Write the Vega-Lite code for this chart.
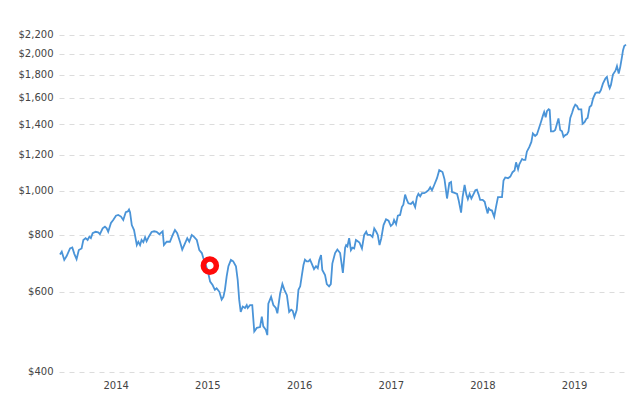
{
  "$schema": "https://vega.github.io/schema/vega-lite/v6.json",
  "width": 569,
  "height": 358,
  "autosize": {"type": "none"},
  "padding": {"left": 59, "top": 20, "right": 12, "bottom": 18},
  "background": "#ffffff",
  "config": {
    "view": {"stroke": null},
    "font": "DejaVu Sans"
  },
  "datasets": {
    "price": [
      {"date": "2013-11-22", "price": 725}, {"date": "2013-11-29", "price": 735}, {"date": "2013-12-09", "price": 705}, {"date": "2013-12-18", "price": 718},
      {"date": "2014-01-01", "price": 747}, {"date": "2014-01-10", "price": 751}, {"date": "2014-01-18", "price": 727}, {"date": "2014-01-27", "price": 708},
      {"date": "2014-02-05", "price": 741}, {"date": "2014-02-16", "price": 747}, {"date": "2014-02-23", "price": 780}, {"date": "2014-03-04", "price": 787},
      {"date": "2014-03-12", "price": 780}, {"date": "2014-03-19", "price": 793}, {"date": "2014-03-25", "price": 787}, {"date": "2014-04-01", "price": 807},
      {"date": "2014-04-13", "price": 813}, {"date": "2014-04-23", "price": 811}, {"date": "2014-04-30", "price": 803}, {"date": "2014-05-11", "price": 827},
      {"date": "2014-05-20", "price": 834}, {"date": "2014-05-27", "price": 827}, {"date": "2014-06-02", "price": 813}, {"date": "2014-06-13", "price": 850},
      {"date": "2014-06-22", "price": 863}, {"date": "2014-07-03", "price": 882}, {"date": "2014-07-12", "price": 885}, {"date": "2014-07-23", "price": 878},
      {"date": "2014-08-01", "price": 863}, {"date": "2014-08-11", "price": 898}, {"date": "2014-08-19", "price": 901}, {"date": "2014-08-24", "price": 910},
      {"date": "2014-08-28", "price": 898}, {"date": "2014-09-04", "price": 841}, {"date": "2014-09-13", "price": 820}, {"date": "2014-09-24", "price": 760},
      {"date": "2014-09-30", "price": 773}, {"date": "2014-10-07", "price": 760}, {"date": "2014-10-13", "price": 780}, {"date": "2014-10-20", "price": 771},
      {"date": "2014-10-27", "price": 791}, {"date": "2014-11-02", "price": 775}, {"date": "2014-11-12", "price": 795}, {"date": "2014-11-22", "price": 812},
      {"date": "2014-12-02", "price": 815}, {"date": "2014-12-12", "price": 813}, {"date": "2014-12-23", "price": 803},
      {"date": "2015-01-05", "price": 815}, {"date": "2015-01-10", "price": 760}, {"date": "2015-01-21", "price": 773}, {"date": "2015-02-03", "price": 773},
      {"date": "2015-02-14", "price": 800}, {"date": "2015-02-23", "price": 820}, {"date": "2015-03-04", "price": 807}, {"date": "2015-03-15", "price": 773},
      {"date": "2015-03-24", "price": 743}, {"date": "2015-04-04", "price": 767}, {"date": "2015-04-13", "price": 787}, {"date": "2015-04-21", "price": 773},
      {"date": "2015-05-01", "price": 800}, {"date": "2015-05-10", "price": 792}, {"date": "2015-05-21", "price": 780}, {"date": "2015-05-31", "price": 741},
      {"date": "2015-06-10", "price": 730}, {"date": "2015-06-16", "price": 712}, {"date": "2015-06-25", "price": 690}, {"date": "2015-07-06", "price": 658},
      {"date": "2015-07-13", "price": 632}, {"date": "2015-07-23", "price": 621}, {"date": "2015-08-01", "price": 606}, {"date": "2015-08-08", "price": 611},
      {"date": "2015-08-19", "price": 600}, {"date": "2015-08-28", "price": 577}, {"date": "2015-09-04", "price": 585}, {"date": "2015-09-10", "price": 606},
      {"date": "2015-09-17", "price": 649}, {"date": "2015-09-24", "price": 683}, {"date": "2015-10-04", "price": 705}, {"date": "2015-10-13", "price": 700},
      {"date": "2015-10-24", "price": 683}, {"date": "2015-10-31", "price": 637}, {"date": "2015-11-06", "price": 576}, {"date": "2015-11-12", "price": 542},
      {"date": "2015-11-20", "price": 557}, {"date": "2015-11-29", "price": 553}, {"date": "2015-12-06", "price": 561}, {"date": "2015-12-10", "price": 553},
      {"date": "2015-12-19", "price": 561}, {"date": "2015-12-28", "price": 561},
      {"date": "2016-01-05", "price": 491}, {"date": "2016-01-15", "price": 500}, {"date": "2016-01-28", "price": 502}, {"date": "2016-02-04", "price": 529},
      {"date": "2016-02-10", "price": 504}, {"date": "2016-02-20", "price": 495}, {"date": "2016-02-26", "price": 482}, {"date": "2016-03-01", "price": 565},
      {"date": "2016-03-12", "price": 585}, {"date": "2016-03-21", "price": 561}, {"date": "2016-03-31", "price": 553}, {"date": "2016-04-06", "price": 538},
      {"date": "2016-04-17", "price": 595}, {"date": "2016-04-26", "price": 624}, {"date": "2016-05-04", "price": 606}, {"date": "2016-05-14", "price": 590},
      {"date": "2016-05-23", "price": 542}, {"date": "2016-05-31", "price": 548}, {"date": "2016-06-06", "price": 545}, {"date": "2016-06-13", "price": 528},
      {"date": "2016-06-22", "price": 547}, {"date": "2016-06-29", "price": 606}, {"date": "2016-07-06", "price": 617}, {"date": "2016-07-12", "price": 649},
      {"date": "2016-07-19", "price": 687}, {"date": "2016-07-25", "price": 706}, {"date": "2016-08-01", "price": 700}, {"date": "2016-08-08", "price": 700},
      {"date": "2016-08-14", "price": 706}, {"date": "2016-08-21", "price": 692}, {"date": "2016-08-30", "price": 673}, {"date": "2016-09-07", "price": 683},
      {"date": "2016-09-14", "price": 676}, {"date": "2016-09-20", "price": 705}, {"date": "2016-09-27", "price": 723}, {"date": "2016-10-02", "price": 670},
      {"date": "2016-10-13", "price": 653}, {"date": "2016-10-20", "price": 624}, {"date": "2016-10-29", "price": 617}, {"date": "2016-11-05", "price": 624},
      {"date": "2016-11-11", "price": 692}, {"date": "2016-11-22", "price": 730}, {"date": "2016-12-01", "price": 743}, {"date": "2016-12-12", "price": 730},
      {"date": "2016-12-23", "price": 660},
      {"date": "2017-01-01", "price": 750}, {"date": "2017-01-05", "price": 760}, {"date": "2017-01-10", "price": 755}, {"date": "2017-01-17", "price": 787},
      {"date": "2017-01-24", "price": 741}, {"date": "2017-01-30", "price": 750}, {"date": "2017-02-06", "price": 747}, {"date": "2017-02-13", "price": 780},
      {"date": "2017-02-19", "price": 776}, {"date": "2017-02-27", "price": 770}, {"date": "2017-03-09", "price": 747}, {"date": "2017-03-18", "price": 800},
      {"date": "2017-03-26", "price": 813}, {"date": "2017-03-31", "price": 800}, {"date": "2017-04-11", "price": 800}, {"date": "2017-04-20", "price": 792},
      {"date": "2017-04-27", "price": 827}, {"date": "2017-05-05", "price": 813}, {"date": "2017-05-11", "price": 800}, {"date": "2017-05-18", "price": 760},
      {"date": "2017-05-25", "price": 787}, {"date": "2017-06-03", "price": 841}, {"date": "2017-06-13", "price": 866}, {"date": "2017-06-23", "price": 860},
      {"date": "2017-07-02", "price": 837}, {"date": "2017-07-10", "price": 845}, {"date": "2017-07-15", "price": 863}, {"date": "2017-07-23", "price": 845},
      {"date": "2017-07-30", "price": 882}, {"date": "2017-08-08", "price": 885}, {"date": "2017-08-15", "price": 921}, {"date": "2017-08-21", "price": 932},
      {"date": "2017-08-28", "price": 981}, {"date": "2017-09-04", "price": 955}, {"date": "2017-09-10", "price": 939}, {"date": "2017-09-20", "price": 936},
      {"date": "2017-09-28", "price": 946}, {"date": "2017-10-07", "price": 921}, {"date": "2017-10-14", "price": 969}, {"date": "2017-10-20", "price": 985},
      {"date": "2017-10-27", "price": 973}, {"date": "2017-11-03", "price": 988}, {"date": "2017-11-12", "price": 988}, {"date": "2017-11-20", "price": 994},
      {"date": "2017-11-29", "price": 1003}, {"date": "2017-12-06", "price": 1018}, {"date": "2017-12-13", "price": 1003}, {"date": "2017-12-22", "price": 1030},
      {"date": "2018-01-02", "price": 1066}, {"date": "2018-01-11", "price": 1110}, {"date": "2018-01-24", "price": 1100}, {"date": "2018-02-01", "price": 1060},
      {"date": "2018-02-11", "price": 962}, {"date": "2018-02-20", "price": 1040}, {"date": "2018-02-27", "price": 1046}, {"date": "2018-03-03", "price": 994},
      {"date": "2018-03-13", "price": 990}, {"date": "2018-03-23", "price": 985}, {"date": "2018-03-29", "price": 955}, {"date": "2018-04-08", "price": 896},
      {"date": "2018-04-14", "price": 969}, {"date": "2018-04-22", "price": 1030}, {"date": "2018-04-29", "price": 981}, {"date": "2018-05-05", "price": 959},
      {"date": "2018-05-12", "price": 985}, {"date": "2018-05-19", "price": 962}, {"date": "2018-05-28", "price": 985}, {"date": "2018-06-04", "price": 1003},
      {"date": "2018-06-10", "price": 1006}, {"date": "2018-06-17", "price": 981}, {"date": "2018-06-23", "price": 955}, {"date": "2018-07-03", "price": 955},
      {"date": "2018-07-11", "price": 946}, {"date": "2018-07-16", "price": 921}, {"date": "2018-07-23", "price": 892}, {"date": "2018-07-27", "price": 915},
      {"date": "2018-08-02", "price": 908}, {"date": "2018-08-09", "price": 905}, {"date": "2018-08-18", "price": 877}, {"date": "2018-08-25", "price": 921},
      {"date": "2018-09-02", "price": 969}, {"date": "2018-09-11", "price": 969}, {"date": "2018-09-18", "price": 969}, {"date": "2018-09-24", "price": 1054},
      {"date": "2018-10-01", "price": 1070}, {"date": "2018-10-12", "price": 1066}, {"date": "2018-10-21", "price": 1075}, {"date": "2018-10-30", "price": 1099},
      {"date": "2018-11-07", "price": 1108}, {"date": "2018-11-13", "price": 1155}, {"date": "2018-11-21", "price": 1115}, {"date": "2018-11-26", "price": 1144},
      {"date": "2018-12-07", "price": 1175}, {"date": "2018-12-13", "price": 1169}, {"date": "2018-12-20", "price": 1169}, {"date": "2018-12-26", "price": 1219},
      {"date": "2019-01-05", "price": 1249}, {"date": "2019-01-13", "price": 1281}, {"date": "2019-01-19", "price": 1337}, {"date": "2019-01-28", "price": 1320},
      {"date": "2019-02-04", "price": 1330}, {"date": "2019-02-10", "price": 1360}, {"date": "2019-02-20", "price": 1415}, {"date": "2019-02-28", "price": 1463},
      {"date": "2019-03-05", "price": 1490}, {"date": "2019-03-11", "price": 1451}, {"date": "2019-03-16", "price": 1496}, {"date": "2019-03-23", "price": 1511},
      {"date": "2019-03-27", "price": 1505}, {"date": "2019-04-01", "price": 1351}, {"date": "2019-04-11", "price": 1351}, {"date": "2019-04-18", "price": 1360},
      {"date": "2019-04-25", "price": 1404}, {"date": "2019-05-01", "price": 1442}, {"date": "2019-05-08", "price": 1360}, {"date": "2019-05-15", "price": 1351},
      {"date": "2019-05-21", "price": 1314}, {"date": "2019-05-28", "price": 1326}, {"date": "2019-06-04", "price": 1331}, {"date": "2019-06-10", "price": 1351},
      {"date": "2019-06-17", "price": 1446}, {"date": "2019-06-24", "price": 1482}, {"date": "2019-06-30", "price": 1519}, {"date": "2019-07-07", "price": 1547},
      {"date": "2019-07-14", "price": 1535}, {"date": "2019-07-20", "price": 1510}, {"date": "2019-07-27", "price": 1510}, {"date": "2019-07-31", "price": 1510},
      {"date": "2019-08-05", "price": 1404}, {"date": "2019-08-13", "price": 1415}, {"date": "2019-08-20", "price": 1439}, {"date": "2019-08-25", "price": 1446},
      {"date": "2019-09-02", "price": 1528}, {"date": "2019-09-09", "price": 1540}, {"date": "2019-09-16", "price": 1597}, {"date": "2019-09-25", "price": 1638},
      {"date": "2019-10-02", "price": 1645}, {"date": "2019-10-11", "price": 1643}, {"date": "2019-10-17", "price": 1665}, {"date": "2019-10-25", "price": 1720},
      {"date": "2019-11-04", "price": 1765}, {"date": "2019-11-10", "price": 1780}, {"date": "2019-11-17", "price": 1703}, {"date": "2019-11-21", "price": 1681},
      {"date": "2019-11-26", "price": 1709}, {"date": "2019-12-04", "price": 1800}, {"date": "2019-12-14", "price": 1836}, {"date": "2019-12-20", "price": 1880},
      {"date": "2019-12-27", "price": 1810}, {"date": "2020-01-02", "price": 1870}, {"date": "2020-01-09", "price": 1970}, {"date": "2020-01-13", "price": 2035},
      {"date": "2020-01-18", "price": 2080}, {"date": "2020-01-25", "price": 2095}
    ],
    "mark": [
      {"date": "2015-07-12", "price": 685}
    ]
  },
  "layer": [
    {
      "data": {"name": "price"},
      "mark": {"type": "line", "color": "#4a94d8", "strokeWidth": 1.8, "interpolate": "linear"},
      "encoding": {
        "x": {
          "field": "date",
          "type": "temporal",
          "scale": {"domain": [{"year": 2013, "month": 11, "date": 18}, {"year": 2020, "month": 2, "date": 2}]},
          "axis": {
            "values": [
              {"year": 2014, "month": 7, "date": 2},
              {"year": 2015, "month": 7, "date": 2},
              {"year": 2016, "month": 7, "date": 2},
              {"year": 2017, "month": 7, "date": 2},
              {"year": 2018, "month": 7, "date": 2},
              {"year": 2019, "month": 7, "date": 2}
            ],
            "format": "%Y",
            "title": null,
            "grid": false,
            "domain": false,
            "ticks": false,
            "labelPadding": 2,
            "labelFontSize": 10,
            "labelColor": "#444444",
            "labelFont": "DejaVu Sans"
          }
        },
        "y": {
          "field": "price",
          "type": "quantitative",
          "scale": {"type": "log", "domain": [388, 2373], "nice": false},
          "axis": {
            "values": [400, 600, 800, 1000, 1200, 1400, 1600, 1800, 2000, 2200],
            "format": "$,.0f",
            "title": null,
            "domain": false,
            "ticks": false,
            "grid": true,
            "gridColor": "#dcdcdc",
            "gridDash": [5, 5],
            "gridWidth": 1,
            "labelPadding": 6,
            "labelFontSize": 10,
            "labelColor": "#444444",
            "labelFont": "DejaVu Sans"
          }
        }
      }
    },
    {
      "data": {"name": "mark"},
      "mark": {"type": "point", "shape": "circle", "filled": false, "stroke": "#ff0a0a", "strokeWidth": 5.5, "size": 170, "opacity": 1},
      "encoding": {
        "x": {"field": "date", "type": "temporal"},
        "y": {"field": "price", "type": "quantitative"}
      }
    }
  ]
}
